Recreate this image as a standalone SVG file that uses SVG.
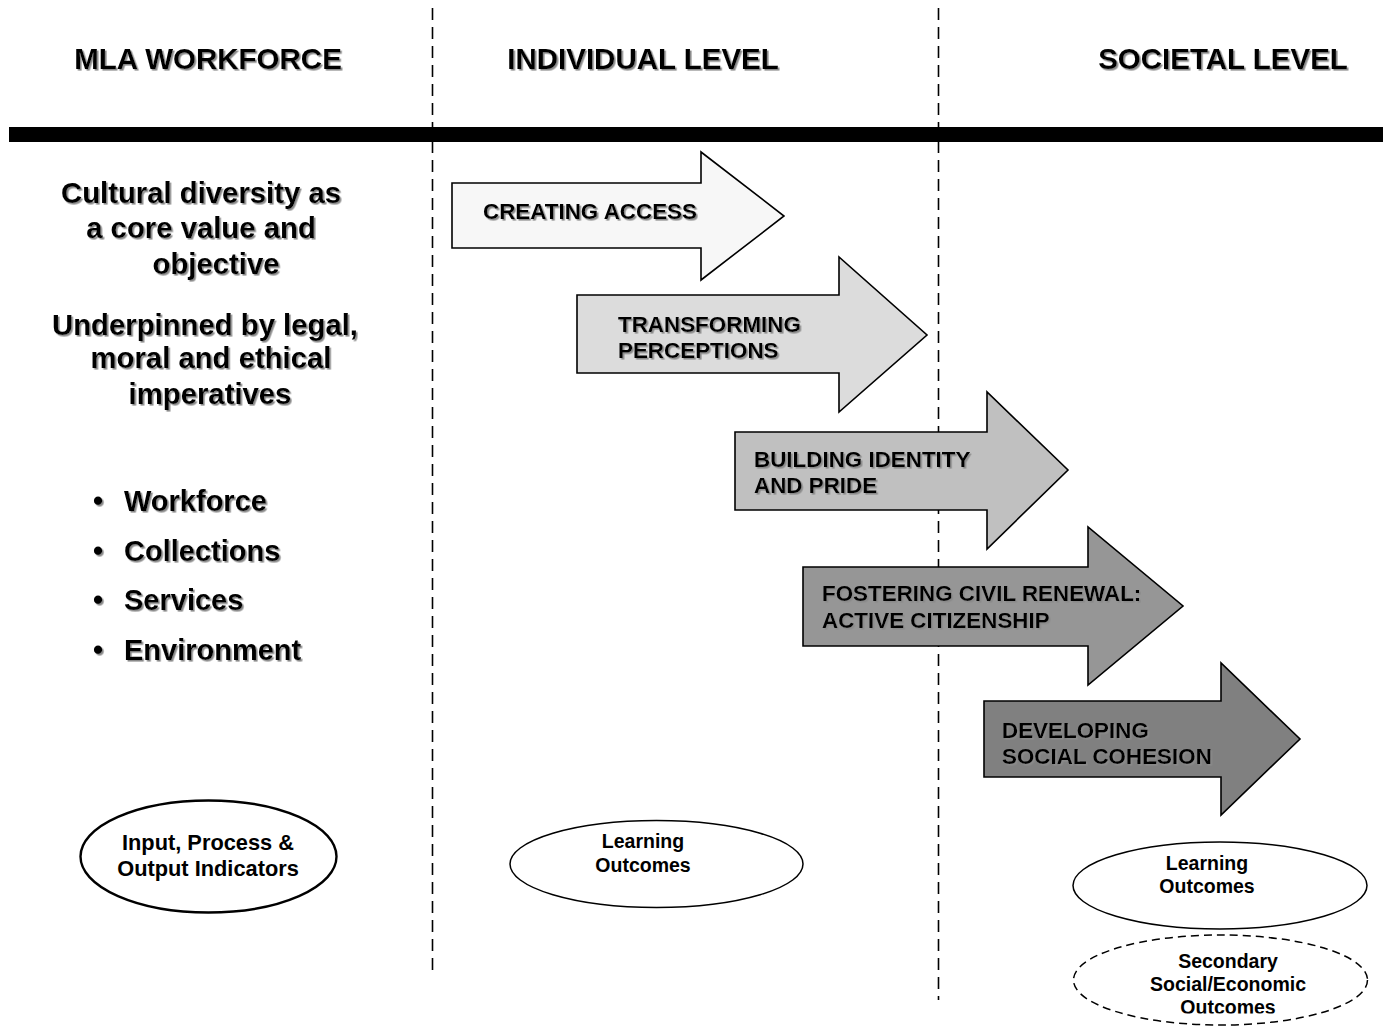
<svg xmlns="http://www.w3.org/2000/svg" width="1383" height="1027" viewBox="0 0 1383 1027">
<defs>
<style>
text{font-family:"Liberation Sans",Arial,Helvetica,sans-serif;font-weight:bold;fill:#000}
.hdr{font-size:29.5px;text-anchor:middle}
.lt{font-size:29.3px;text-anchor:middle}
.bl{font-size:29px}
.at{font-size:22.4px}
.et{font-size:21.8px;text-anchor:middle}
.es{font-size:19.5px;text-anchor:middle}
.arrow{stroke:#000;stroke-width:1.6;stroke-linejoin:miter}
.div{stroke:#000;stroke-width:1.6;stroke-dasharray:12 7;fill:none}
.ell{fill:#fff;stroke:#000}
</style>
<filter id="sh" x="-5%" y="-20%" width="110%" height="150%">
<feDropShadow dx="1.6" dy="1.6" stdDeviation="0.6" flood-color="#8a8a8a" flood-opacity="1"/>
</filter>
<clipPath id="clipSec"><rect x="1060" y="930" width="320" height="83.5"/></clipPath>
</defs>
<rect x="0" y="0" width="1383" height="1027" fill="#fff"/>

<g id="dividers">
<line class="div" x1="432.5" y1="8" x2="432.5" y2="975"/>
<line class="div" x1="938.5" y1="8" x2="938.5" y2="1000"/>
<rect x="9" y="127" width="1374" height="15" fill="#000"/>
</g>

<g id="headers" filter="url(#sh)">
<text id="h-mla" class="hdr" x="208" y="69">MLA WORKFORCE</text>
<text id="h-ind" class="hdr" x="643" y="69">INDIVIDUAL LEVEL</text>
<text id="h-soc" class="hdr" x="1223" y="69">SOCIETAL LEVEL</text>
</g>

<g id="core-value" filter="url(#sh)">
<text class="lt" x="201" y="203">Cultural diversity as</text>
<text class="lt" x="201" y="238">a core value and</text>
<text class="lt" x="216" y="274">objective</text>
</g>
<g id="underpinned" filter="url(#sh)">
<text class="lt" x="205" y="335">Underpinned by legal,</text>
<text class="lt" x="211" y="368">moral and ethical</text>
<text class="lt" x="210" y="404">imperatives</text>
</g>
<g id="areas" filter="url(#sh)">
<text class="bl" y="511"><tspan x="93">•</tspan><tspan x="124">Workforce</tspan></text>
<text class="bl" y="561"><tspan x="93">•</tspan><tspan x="124">Collections</tspan></text>
<text class="bl" y="610"><tspan x="93">•</tspan><tspan x="124">Services</tspan></text>
<text class="bl" y="660"><tspan x="93">•</tspan><tspan x="124">Environment</tspan></text>
</g>

<g id="arrow-access">
<polygon class="arrow" fill="#f7f7f7" points="452,183 701,183 701,152 784,216 701,280 701,248 452,248"/>
<text class="at" x="483" y="219" filter="url(#sh)">CREATING ACCESS</text>
</g>
<g id="arrow-perceptions">
<polygon class="arrow" fill="#dcdcdc" points="577,295 839,295 839,257 927,335 839,412 839,373 577,373"/>
<text class="at" x="618" y="332" filter="url(#sh)">TRANSFORMING</text>
<text class="at" x="618" y="358" filter="url(#sh)">PERCEPTIONS</text>
</g>
<g id="arrow-identity">
<polygon class="arrow" fill="#c0c0c0" points="735,432 987,432 987,392 1068,470 987,549 987,510 735,510"/>
<text class="at" x="754" y="467" filter="url(#sh)">BUILDING IDENTITY</text>
<text class="at" x="754" y="493" filter="url(#sh)">AND PRIDE</text>
</g>
<g id="arrow-civil">
<polygon class="arrow" fill="#969696" points="803,567 1088,567 1088,527 1183,606 1088,685 1088,646 803,646"/>
<text class="at" x="822" y="601" filter="url(#sh)">FOSTERING CIVIL RENEWAL:</text>
<text class="at" x="822" y="628" filter="url(#sh)">ACTIVE CITIZENSHIP</text>
</g>
<g id="arrow-cohesion">
<polygon class="arrow" fill="#808080" points="984,701 1221,701 1221,663 1300,739 1221,815 1221,777 984,777"/>
<text class="at" x="1002" y="738" filter="url(#sh)">DEVELOPING</text>
<text class="at" x="1002" y="764" filter="url(#sh)">SOCIAL COHESION</text>
</g>

<g id="indicators">
<ellipse class="ell" cx="208.5" cy="856.5" rx="128" ry="56" stroke-width="2.4"/>
<text class="et" x="208" y="850">Input, Process &amp;</text>
<text class="et" x="208" y="876">Output Indicators</text>
</g>
<g id="learning-individual">
<ellipse class="ell" cx="656.5" cy="864" rx="146.5" ry="43.5" stroke-width="1.5"/>
<text class="es" x="643" y="848">Learning</text>
<text class="es" x="643" y="872">Outcomes</text>
</g>
<g id="learning-societal">
<ellipse class="ell" cx="1220" cy="885.5" rx="147" ry="43.5" stroke-width="1.5"/>
<text class="es" x="1207" y="870">Learning</text>
<text class="es" x="1207" y="893">Outcomes</text>
</g>
<g id="secondary-outcomes">
<ellipse cx="1220.5" cy="980" rx="147" ry="45" fill="#fff" stroke="#000" stroke-width="1.5" stroke-dasharray="8 5"/>
<g clip-path="url(#clipSec)">
<text class="es" x="1228" y="968">Secondary</text>
<text class="es" x="1228" y="991">Social/Economic</text>
<text class="es" x="1228" y="1014">Outcomes</text>
</g>
</g>
</svg>
